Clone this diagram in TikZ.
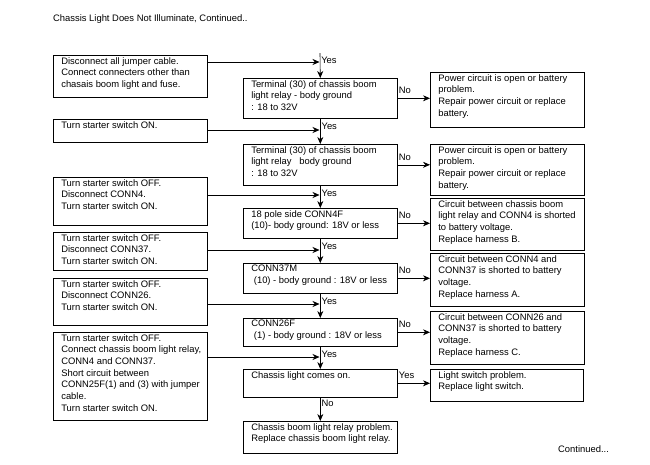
\documentclass[tikz,border=0pt]{standalone}
\usepackage{fontspec}
\setmainfont{Liberation Sans}
\usetikzlibrary{arrows.meta,calc}

\newcommand{\flowfont}{\fontsize{9.4}{11.7}\selectfont}
\newcommand{\boxtext}[3]{\parbox[t][#2pt][t]{#1pt}{\vspace*{2pt}\raggedright\leftskip=8pt\relax #3}}

\tikzset{
  flowbox/.style={draw, line width=0.6pt, anchor=north west, inner sep=0pt, font=\flowfont},
  flowline/.style={line width=0.6pt, -{Stealth[length=7pt,width=6pt]}},
  ylab/.style={anchor=north west, inner sep=1pt, font=\flowfont, yshift=-3pt},
  nlab/.style={anchor=south west, inner sep=1pt, font=\flowfont, yshift=3pt},
}

\begin{document}
\begin{tikzpicture}[x=1pt,y=-1pt]
    \useasboundingbox (0,0) rectangle (650,464);

    % Title
    \node[anchor=west, inner sep=0pt, font=\flowfont] (title) at (53,19) {Chassis Light Does Not Illuminate, Continued..};

    % Actions on the left
    \node[flowbox] (l1) at (53,55) {\boxtext{154}{42}{Disconnect all jumper cable.\\Connect connecters other than\\chasais boom light and fuse.}};
    \node[flowbox] (l2) at (53,119) {\boxtext{154}{23}{Turn starter switch ON.}};
    \node[flowbox] (l3) at (53,177) {\boxtext{154}{48}{Turn starter switch OFF.\\Disconnect CONN4.\\Turn starter switch ON.}};
    \node[flowbox] (l4) at (53,232) {\boxtext{154}{38}{Turn starter switch OFF.\\Disconnect CONN37.\\Turn starter switch ON.}};
    \node[flowbox] (l5) at (53,278) {\boxtext{154}{47}{Turn starter switch OFF.\\Disconnect CONN26.\\Turn starter switch ON.}};
    \node[flowbox] (l6) at (53,332) {\boxtext{154}{88}{Turn starter switch OFF.\\Connect chassis boom light relay,\\CONN4 and CONN37.\\Short circuit between\\CONN25F(1) and (3) with jumper\\cable.\\Turn starter switch ON.}};

    % Checks in the middle
    \node[flowbox] (c1) at (243,78) {\boxtext{154}{40}{Terminal (30) of chassis boom\\light relay - body ground\\: 18 to 32V}};
    \node[flowbox] (c2) at (243,144) {\boxtext{154}{41}{Terminal (30) of chassis boom\\light relay \ \ body ground\\: 18 to 32V}};
    \node[flowbox] (c3) at (243,208) {\boxtext{154}{30}{18 pole side CONN4F\\(10)- body ground: 18V or less}};
    \node[flowbox] (c4) at (243,263) {\boxtext{154}{30}{CONN37M\\\ (10) - body ground : 18V or less}};
    \node[flowbox] (c5) at (243,318) {\boxtext{154}{28}{CONN26F\\\ (1) - body ground : 18V or less}};
    \node[flowbox] (c6) at (243,369) {\boxtext{154}{28}{Chassis light comes on.}};
    \node[flowbox] (c7) at (243,421) {\boxtext{154}{32}{Chassis boom light relay problem.\\Replace chassis boom light relay.}};

    % Results on the right
    \node[flowbox] (r1) at (430,72) {\boxtext{154}{55}{Power circuit is open or battery\\problem.\\Repair power circuit or replace\\battery.}};
    \node[flowbox] (r2) at (430,144) {\boxtext{154}{51}{Power circuit is open or battery\\problem.\\Repair power circuit or replace\\battery.}};
    \node[flowbox] (r3) at (430,198) {\boxtext{154}{52}{Circuit between chassis boom\\light relay and CONN4 is shorted\\to battery voltage.\\Replace harness B.}};
    \node[flowbox] (r4) at (430,253) {\boxtext{154}{53}{Circuit between CONN4 and\\CONN37 is shorted to battery\\voltage.\\Replace harness A.}};
    \node[flowbox] (r5) at (430,311) {\boxtext{154}{53}{Circuit between CONN26 and\\CONN37 is shorted to battery\\voltage.\\Replace harness C.}};
    \node[flowbox] (r6) at (430,369) {\boxtext{153}{32}{Light switch problem.\\Replace light switch.}};

    % Main flow down the middle
    \coordinate (start) at (320,53);
    \draw[flowline] (start) node[ylab] (yes1) {Yes} -- (c1.north);
    \draw[flowline] (c1.south) node[ylab] (yes2) {Yes} -- (c2.north);
    \draw[flowline] (c2.south) node[ylab] (yes3) {Yes} -- (c3.north);
    \draw[flowline] (c3.south) node[ylab] (yes4) {Yes} -- (c4.north);
    \draw[flowline] (c4.south) node[ylab] (yes5) {Yes} -- (c5.north);
    \draw[flowline] (c5.south) node[ylab] (yes6) {Yes} -- (c6.north);
    \draw[flowline] (c6.south) node[ylab, yshift=2pt] (no7) {No} -- (c7.north);

    % Joins from the actions
    \coordinate (j1) at (319.5,62);
    \coordinate (j2) at (319.5,130);
    \coordinate (j3) at (319.5,195);
    \coordinate (j4) at (319.5,250);
    \coordinate (j5) at (319.5,304);
    \coordinate (j6) at (319.5,357);
    \draw[flowline] (l1.east |- j1) -- (j1);
    \draw[flowline] (l2.east |- j2) -- (j2);
    \draw[flowline] (l3.east |- j3) -- (j3);
    \draw[flowline] (l4.east |- j4) -- (j4);
    \draw[flowline] (l5.east |- j5) -- (j5);
    \draw[flowline] (l6.east |- j6) -- (j6);

    % Branches to the results
    \draw[flowline] (c1.east) node[nlab] (no1) {No} -- (r1.west |- c1.east);
    \draw[flowline] (c2.east) node[nlab] (no2) {No} -- (r2.west |- c2.east);
    \draw[flowline] (c3.east) node[nlab] (no3) {No} -- (r3.west |- c3.east);
    \draw[flowline] (c4.east) node[nlab] (no4) {No} -- (r4.west |- c4.east);
    \draw[flowline] (c5.east) node[nlab] (no5) {No} -- (r5.west |- c5.east);
    \draw[flowline] (c6.east) node[nlab] (yes7) {Yes} -- (r6.west |- c6.east);

    \node[anchor=west, inner sep=0pt, font=\flowfont] (cont) at (558,449) {Continued...};
\end{tikzpicture}
\end{document}
